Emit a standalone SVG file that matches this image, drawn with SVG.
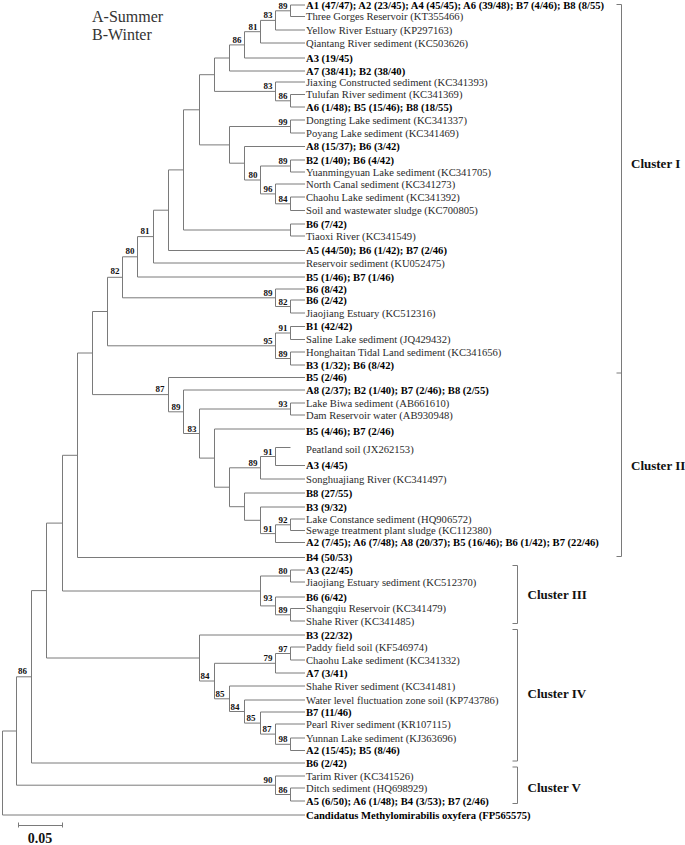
<svg xmlns="http://www.w3.org/2000/svg" width="685" height="845" viewBox="0 0 685 845">
<style>
.ln{stroke:#7a7a7a;stroke-width:1;fill:none}
.t{font-family:"Liberation Serif","Times New Roman",serif;font-size:10.6px;fill:#2a2a2a}
.b{font-weight:bold;fill:#000}
.bs{font-family:"Liberation Serif","Times New Roman",serif;font-size:9px;font-weight:bold;fill:#111;text-anchor:end}
.cl{font-family:"Liberation Serif","Times New Roman",serif;font-size:13px;font-weight:bold;fill:#111}
.lg{font-family:"Liberation Serif","Times New Roman",serif;font-size:16px;fill:#333}
</style>
<rect width="685" height="845" fill="#fff"/>
<g id="legend">
<text class="lg" x="92" y="21.5">A-Summer</text>
<text class="lg" x="92" y="39.5">B-Winter</text>
</g>
<g id="connectors" class="ln">
<!-- root -->
<path d="M2.5 731 V815 M2.5 731 H16.5 M2.5 815 H305"/>
<path d="M16.5 676.8 V785.2 M16.5 676.8 H31.5 M16.5 785.2 H275.5"/>
<path d="M31.5 590.6 V763 M31.5 590.6 H46.5 M31.5 763 H305"/>
<path d="M46.5 523.1 V658 M46.5 523.1 H62.5 M46.5 658 H199.5"/>
<path d="M62.5 455.3 V591 M62.5 455.3 H77.5 M62.5 591 H260.5"/>
<path d="M77.5 353 V557.5 M77.5 353 H92.5 M77.5 557.5 H305"/>
<path d="M92.5 311.5 V394.6 M92.5 311.5 H107.5 M92.5 394.6 H168.5"/>
<path d="M107.5 277.3 V345.8 M107.5 277.3 H122.5 M107.5 345.8 H275.5"/>
<path d="M122.5 256.8 V297.8 M122.5 256.8 H137.5 M122.5 297.8 H275.5"/>
<path d="M137.5 236.6 V277 M137.5 236.6 H153.5 M137.5 277 H305"/>
<path d="M153.5 210.2 V263 M153.5 210.2 H168.5 M153.5 263 H305"/>
<path d="M168.5 169.9 V250.5 M168.5 169.9 H183.5 M168.5 250.5 H305"/>
<path d="M183.5 109.8 V230 M183.5 109.8 H199.5 M183.5 230 H290.5"/>
<path d="M290.5 224 V236 M290.5 224 H305 M290.5 236 H305"/>
<path d="M199.5 74.7 V144.9 M199.5 74.7 H214.5 M199.5 144.9 H229.5"/>
<path d="M214.5 58 V91.4 M214.5 58 H229.5 M214.5 91.4 H275.5"/>
<path d="M229.5 44.9 V71 M229.5 44.9 H244.5 M229.5 71 H305"/>
<path d="M244.5 31.7 V58 M244.5 31.7 H260.5 M244.5 58 H305"/>
<path d="M260.5 20.4 V43 M260.5 20.4 H275.5 M260.5 43 H305"/>
<path d="M275.5 10.8 V30 M275.5 10.8 H290.5 M275.5 30 H305"/>
<path d="M290.5 5 V16.5 M290.5 5 H305 M290.5 16.5 H305"/>
<path d="M275.5 82 V100.8 M275.5 82 H305 M275.5 100.8 H290.5"/>
<path d="M290.5 94.5 V107 M290.5 94.5 H305 M290.5 107 H305"/>
<path d="M229.5 126.5 V163.2 M229.5 126.5 H290.5 M229.5 163.2 H244.5"/>
<path d="M290.5 120 V133 M290.5 120 H305 M290.5 133 H305"/>
<path d="M244.5 146.5 V180 M244.5 146.5 H305 M244.5 180 H260.5"/>
<path d="M260.5 166 V193.9 M260.5 166 H290.5 M260.5 193.9 H275.5"/>
<path d="M290.5 160 V172 M290.5 160 H305 M290.5 172 H305"/>
<path d="M275.5 184 V203.8 M275.5 184 H305 M275.5 203.8 H290.5"/>
<path d="M290.5 197 V210.5 M290.5 197 H305 M290.5 210.5 H305"/>
<path d="M275.5 289 V306.5 M275.5 289 H305 M275.5 306.5 H290.5"/>
<path d="M290.5 300 V313 M290.5 300 H305 M290.5 313 H305"/>
<path d="M275.5 333 V358.5 M275.5 333 H290.5 M275.5 358.5 H290.5"/>
<path d="M290.5 326.5 V339.5 M290.5 326.5 H305 M290.5 339.5 H305"/>
<path d="M290.5 352 V365 M290.5 352 H305 M290.5 365 H305"/>
<!-- cluster II -->
<path d="M168.5 377.5 V411.8 M168.5 377.5 H305 M168.5 411.8 H183.5"/>
<path d="M183.5 390 V433.5 M183.5 390 H305 M183.5 433.5 H199.5"/>
<path d="M199.5 409 V458.1 M199.5 409 H290.5 M199.5 458.1 H214.5"/>
<path d="M290.5 403 V415 M290.5 403 H305 M290.5 415 H305"/>
<path d="M214.5 429 V487.2 M214.5 429 H305 M214.5 487.2 H229.5"/>
<path d="M229.5 467.8 V506.7 M229.5 467.8 H260.5 M229.5 506.7 H244.5"/>
<path d="M260.5 456.5 V479 M260.5 456.5 H275.5 M260.5 479 H305"/>
<path d="M275.5 447.5 V465.5 M275.5 447.5 H290.5 M275.5 465.5 H305"/>
<path d="M244.5 493 V520.3 M244.5 493 H305 M244.5 520.3 H260.5"/>
<path d="M260.5 507 V533.6 M260.5 507 H305 M260.5 533.6 H275.5"/>
<path d="M275.5 524.8 V542.5 M275.5 524.8 H290.5 M275.5 542.5 H305"/>
<path d="M290.5 519 V530.5 M290.5 519 H305 M290.5 530.5 H305"/>
<!-- cluster III -->
<path d="M260.5 576 V605.9 M260.5 576 H290.5 M260.5 605.9 H275.5"/>
<path d="M290.5 570 V582 M290.5 570 H305 M290.5 582 H305"/>
<path d="M275.5 597 V614.8 M275.5 597 H305 M275.5 614.8 H290.5"/>
<path d="M290.5 608.5 V621 M290.5 608.5 H305 M290.5 621 H305"/>
<!-- cluster IV -->
<path d="M199.5 635 V681 M199.5 635 H305 M199.5 681 H214.5"/>
<path d="M214.5 663.3 V698.8 M214.5 663.3 H275.5 M214.5 698.8 H229.5"/>
<path d="M275.5 653.5 V673 M275.5 653.5 H290.5 M275.5 673 H305"/>
<path d="M290.5 647 V660 M290.5 647 H305 M290.5 660 H305"/>
<path d="M229.5 686 V711.5 M229.5 686 H305 M229.5 711.5 H244.5"/>
<path d="M244.5 700 V723.1 M244.5 700 H305 M244.5 723.1 H260.5"/>
<path d="M260.5 712 V734.1 M260.5 712 H305 M260.5 734.1 H275.5"/>
<path d="M275.5 724 V744.3 M275.5 724 H305 M275.5 744.3 H290.5"/>
<path d="M290.5 738 V750.5 M290.5 738 H305 M290.5 750.5 H305"/>
<!-- cluster V -->
<path d="M275.5 776 V794.5 M275.5 776 H305 M275.5 794.5 H290.5"/>
<path d="M290.5 788 V801 M290.5 788 H305 M290.5 801 H305"/>
<!-- brackets -->
<path d="M616.5 4.5 H621.5 V373 H616.5 M621.5 373 V556.5 H616.5"/>
<path d="M512.5 565.5 H517.5 V623.5 H512.5"/>
<path d="M512.5 629.5 H517.5 V761 H512.5"/>
<path d="M512.5 767 H517.5 V803.5 H512.5"/>
<!-- scale bar -->
<path d="M18.5 822.5 V827.5 M18.5 825.5 H62.5 M62.5 822.5 V827.5"/>
</g>
<g id="bootstrap">
<text class="bs" x="287.5" y="8.8">89</text>
<text class="bs" x="272.5" y="18.4">83</text>
<text class="bs" x="257.5" y="29.7">81</text>
<text class="bs" x="241.5" y="42.9">86</text>
<text class="bs" x="272.5" y="89.4">83</text>
<text class="bs" x="287.5" y="98.8">86</text>
<text class="bs" x="287.5" y="124.5">99</text>
<text class="bs" x="287.5" y="164">89</text>
<text class="bs" x="257.5" y="178">80</text>
<text class="bs" x="272.5" y="191.9">96</text>
<text class="bs" x="287.5" y="201.8">84</text>
<text class="bs" x="149.5" y="233.6">81</text>
<text class="bs" x="134.5" y="253.8">80</text>
<text class="bs" x="119.5" y="274.3">82</text>
<text class="bs" x="272.5" y="295.8">89</text>
<text class="bs" x="287.5" y="304.5">82</text>
<text class="bs" x="287.5" y="331">91</text>
<text class="bs" x="272.5" y="343.8">95</text>
<text class="bs" x="287.5" y="356.5">89</text>
<text class="bs" x="164.5" y="391.6">87</text>
<text class="bs" x="180.5" y="409.8">89</text>
<text class="bs" x="196.5" y="431.5">83</text>
<text class="bs" x="287.5" y="407">93</text>
<text class="bs" x="272.5" y="454.5">91</text>
<text class="bs" x="257.5" y="465.8">89</text>
<text class="bs" x="287.5" y="522.8">92</text>
<text class="bs" x="272.5" y="531.6">91</text>
<text class="bs" x="287.5" y="574">80</text>
<text class="bs" x="272.5" y="601">93</text>
<text class="bs" x="287.5" y="612.8">89</text>
<text class="bs" x="287.5" y="651.5">97</text>
<text class="bs" x="272.5" y="661.3">79</text>
<text class="bs" x="209.5" y="679">84</text>
<text class="bs" x="224.5" y="696.8">85</text>
<text class="bs" x="239.5" y="709.5">84</text>
<text class="bs" x="255.5" y="721.1">85</text>
<text class="bs" x="271.5" y="732.1">87</text>
<text class="bs" x="287.5" y="742.3">98</text>
<text class="bs" x="27" y="674">86</text>
<text class="bs" x="272.5" y="783.2">90</text>
<text class="bs" x="287.5" y="792.5">86</text>
</g>
<g id="leaves" class="t">
<g id="L1"><text class="t b" x="306" y="8.5">A1 (47/47); A2 (23/45); A4 (45/45); A6 (39/48); B7 (4/46); B8 (8/55)</text></g>
<g id="L2"><text class="t" x="306" y="20">Three Gorges Reservoir (KT355466)</text></g>
<g id="L3"><text class="t" x="306" y="33.5">Yellow River Estuary (KP297163)</text></g>
<g id="L4"><text class="t" x="306" y="46.5">Qiantang River sediment (KC503626)</text></g>
<g id="L5"><text class="t b" x="306" y="61.5">A3 (19/45)</text></g>
<g id="L6"><text class="t b" x="306" y="74.5">A7 (38/41); B2 (38/40)</text></g>
<g id="L7"><text class="t" x="306" y="85.5">Jiaxing Constructed sediment (KC341393)</text></g>
<g id="L8"><text class="t" x="306" y="98">Tulufan River sediment (KC341369)</text></g>
<g id="L9"><text class="t b" x="306" y="110.5">A6 (1/48); B5 (15/46); B8 (18/55)</text></g>
<g id="L10"><text class="t" x="306" y="123.5">Dongting Lake sediment (KC341337)</text></g>
<g id="L11"><text class="t" x="306" y="136.5">Poyang Lake sediment (KC341469)</text></g>
<g id="L12"><text class="t b" x="306" y="150">A8 (15/37); B6 (3/42)</text></g>
<g id="L13"><text class="t b" x="306" y="163.5">B2 (1/40); B6 (4/42)</text></g>
<g id="L14"><text class="t" x="306" y="175.5">Yuanmingyuan Lake sediment (KC341705)</text></g>
<g id="L15"><text class="t" x="306" y="187.5">North Canal sediment (KC341273)</text></g>
<g id="L16"><text class="t" x="306" y="200.5">Chaohu Lake sediment (KC341392)</text></g>
<g id="L17"><text class="t" x="306" y="214">Soil and wastewater sludge (KC700805)</text></g>
<g id="L18"><text class="t b" x="306" y="227.5">B6 (7/42)</text></g>
<g id="L19"><text class="t" x="306" y="239.5">Tiaoxi River (KC341549)</text></g>
<g id="L20"><text class="t b" x="306" y="254">A5 (44/50); B6 (1/42); B7 (2/46)</text></g>
<g id="L21"><text class="t" x="306" y="266.5">Reservoir sediment (KU052475)</text></g>
<g id="L22"><text class="t b" x="306" y="280.5">B5 (1/46); B7 (1/46)</text></g>
<g id="L23"><text class="t b" x="306" y="292.5">B6 (8/42)</text></g>
<g id="L24"><text class="t b" x="306" y="303.5">B6 (2/42)</text></g>
<g id="L25"><text class="t" x="306" y="316.5">Jiaojiang Estuary (KC512316)</text></g>
<g id="L26"><text class="t b" x="306" y="330">B1 (42/42)</text></g>
<g id="L27"><text class="t" x="306" y="343">Saline Lake sediment (JQ429432)</text></g>
<g id="L28"><text class="t" x="306" y="355.5">Honghaitan Tidal Land sediment (KC341656)</text></g>
<g id="L29"><text class="t b" x="306" y="368.5">B3 (1/32); B6 (8/42)</text></g>
<g id="L30"><text class="t b" x="306" y="381">B5 (2/46)</text></g>
<g id="L31"><text class="t b" x="306" y="393.5">A8 (2/37); B2 (1/40); B7 (2/46); B8 (2/55)</text></g>
<g id="L32"><text class="t" x="306" y="406.5">Lake Biwa sediment (AB661610)</text></g>
<g id="L33"><text class="t" x="306" y="418.5">Dam Reservoir water (AB930948)</text></g>
<g id="L34"><text class="t b" x="306" y="434.5">B5 (4/46); B7 (2/46)</text></g>
<g id="L35"><text class="t" x="306" y="452.5">Peatland soil (JX262153)</text></g>
<g id="L36"><text class="t b" x="306" y="469">A3 (4/45)</text></g>
<g id="L37"><text class="t" x="306" y="482.5">Songhuajiang River (KC341497)</text></g>
<g id="L38"><text class="t b" x="306" y="496.5">B8 (27/55)</text></g>
<g id="L39"><text class="t b" x="306" y="510.5">B3 (9/32)</text></g>
<g id="L40"><text class="t" x="306" y="522.5">Lake Constance sediment (HQ906572)</text></g>
<g id="L41"><text class="t" x="306" y="534">Sewage treatment plant sludge (KC112380)</text></g>
<g id="L42"><text class="t b" x="306" y="546">A2 (7/45); A6 (7/48); A8 (20/37); B5 (16/46); B6 (1/42); B7 (22/46)</text></g>
<g id="L43"><text class="t b" x="306" y="561">B4 (50/53)</text></g>
<g id="L44"><text class="t b" x="306" y="573.5">A3 (22/45)</text></g>
<g id="L45"><text class="t" x="306" y="585.5">Jiaojiang Estuary sediment (KC512370)</text></g>
<g id="L46"><text class="t b" x="306" y="600.5">B6 (6/42)</text></g>
<g id="L47"><text class="t" x="306" y="612">Shangqiu Reservoir (KC341479)</text></g>
<g id="L48"><text class="t" x="306" y="624.5">Shahe River (KC341485)</text></g>
<g id="L49"><text class="t b" x="306" y="638.5">B3 (22/32)</text></g>
<g id="L50"><text class="t" x="306" y="650.5">Paddy field soil (KF546974)</text></g>
<g id="L51"><text class="t" x="306" y="663.5">Chaohu Lake sediment (KC341332)</text></g>
<g id="L52"><text class="t b" x="306" y="676.5">A7 (3/41)</text></g>
<g id="L53"><text class="t" x="306" y="689.5">Shahe River sediment (KC341481)</text></g>
<g id="L54"><text class="t" x="306" y="703.5">Water level fluctuation zone soil (KP743786)</text></g>
<g id="L55"><text class="t b" x="306" y="715.5">B7 (11/46)</text></g>
<g id="L56"><text class="t" x="306" y="727.5">Pearl River sediment (KR107115)</text></g>
<g id="L57"><text class="t" x="306" y="741.5">Yunnan Lake sediment (KJ363696)</text></g>
<g id="L58"><text class="t b" x="306" y="754">A2 (15/45); B5 (8/46)</text></g>
<g id="L59"><text class="t b" x="306" y="766.5">B6 (2/42)</text></g>
<g id="L60"><text class="t" x="306" y="779.5">Tarim River (KC341526)</text></g>
<g id="L61"><text class="t" x="306" y="791.5">Ditch sediment (HQ698929)</text></g>
<g id="L62"><text class="t b" x="306" y="804.5">A5 (6/50); A6 (1/48); B4 (3/53); B7 (2/46)</text></g>
<g id="L63"><text class="t b" x="306" y="818.5">Candidatus Methylomirabilis oxyfera (FP565575)</text></g>
</g>
<g id="clusters">
<text class="cl" x="631" y="167.5">Cluster I</text>
<text class="cl" x="631" y="469.5">Cluster II</text>
<text class="cl" x="527.5" y="599">Cluster III</text>
<text class="cl" x="527.5" y="698">Cluster IV</text>
<text class="cl" x="527.5" y="792">Cluster V</text>
</g>
<g id="scale">
<text x="40" y="843" text-anchor="middle" style="font-family:'Liberation Serif','Times New Roman',serif;font-size:14px;font-weight:bold;fill:#111">0.05</text>
</g>
</svg>
